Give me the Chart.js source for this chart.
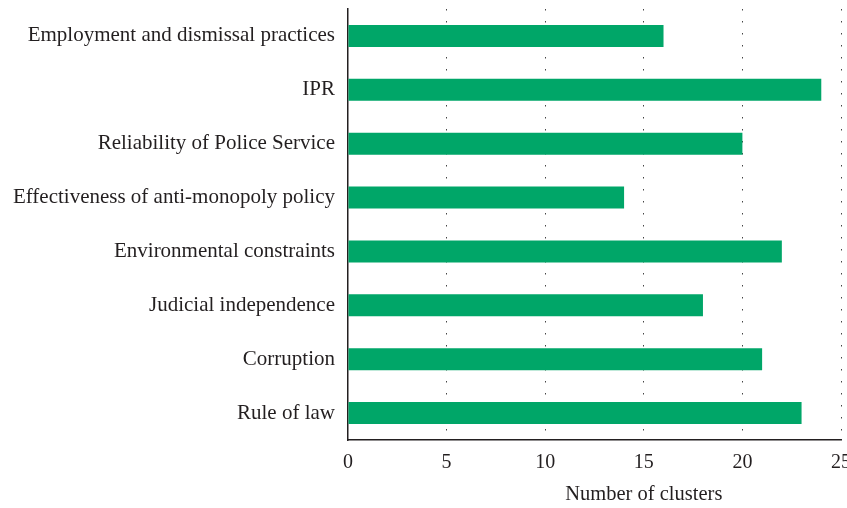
<!DOCTYPE html>
<html>
<head>
<meta charset="utf-8">
<script src="https://cdn.jsdelivr.net/npm/chart.js@4/dist/chart.umd.min.js"></script>
<style>
  html, body { margin: 0; padding: 0; background: #fff; overflow: hidden; }
</style>
</head>
<body>
<canvas id="myChart" width="847" height="508"></canvas>
<script>
// chart data
const categories = [
    "Employment and dismissal practices",
    "IPR",
    "Reliability of Police Service",
    "Effectiveness of anti-monopoly policy",
    "Environmental constraints",
    "Judicial independence",
    "Corruption",
    "Rule of law"
];
const clusterCounts = [16, 24, 20, 14, 22, 18, 21, 23];
const xTicks = [0, 5, 10, 15, 20, 25];
const xTitle = "Number of clusters";

const serif = "'Liberation Serif', 'DejaVu Serif', serif";
const textColor = '#231f20';

// axis title sits under the 15 tick in the original, so draw it by hand
const xTitlePlugin = {
    id: 'xTitlePlugin',
    afterDraw(chart) {
        const xs = chart.scales.x;
        const c = chart.ctx;
        c.save();
        c.font = '20.5px ' + serif;
        c.fillStyle = textColor;
        c.textAlign = 'center';
        c.textBaseline = 'middle';
        c.fillText(xTitle, xs.getPixelForValue(15), 495);
        c.restore();
    }
};

const ctx = document.getElementById('myChart').getContext('2d');
const myChart = new Chart(ctx, {
    type: 'bar',
    data: {
        labels: categories,
        datasets: [{
            data: clusterCounts,
            backgroundColor: '#00a668',
            borderWidth: 0,
            barPercentage: 0.41,
            categoryPercentage: 1
        }]
    },
    options: {
        indexAxis: 'y',
        responsive: false,
        animation: false,
        layout: { padding: { top: 9, bottom: 0, left: 0, right: 6 } },
        plugins: {
            legend: { display: false },
            tooltip: { enabled: false }
        },
        scales: {
            x: {
                min: 0,
                max: 25,
                afterBuildTicks: (axis) => { axis.ticks = xTicks.map(v => ({ value: v })); },
                afterFit: (axis) => {
                    axis.height = 68;
                    axis.paddingLeft = 0;
                    axis.paddingRight = 0;
                },
                border: { display: true, color: '#231f20', width: 1.5, dash: [1.5, 10.5] },
                grid: {
                    drawTicks: false,
                    color: (c) => c.tick && c.tick.value === 0 ? 'rgba(0,0,0,0)' : '#444',
                    lineWidth: 1
                },
                ticks: {
                    padding: 11,
                    color: textColor,
                    font: { family: serif, size: 20 }
                }
            },
            y: {
                afterFit: (axis) => {
                    axis.width = 348;
                    axis.paddingTop = 0;
                    axis.paddingBottom = 0;
                },
                border: { display: true, color: '#231f20', width: 1.5 },
                grid: { display: false, drawTicks: false },
                ticks: {
                    padding: 13,
                    color: textColor,
                    font: { family: serif, size: 21 }
                }
            }
        }
    },
    plugins: [xTitlePlugin]
});
</script>
</body>
</html>
